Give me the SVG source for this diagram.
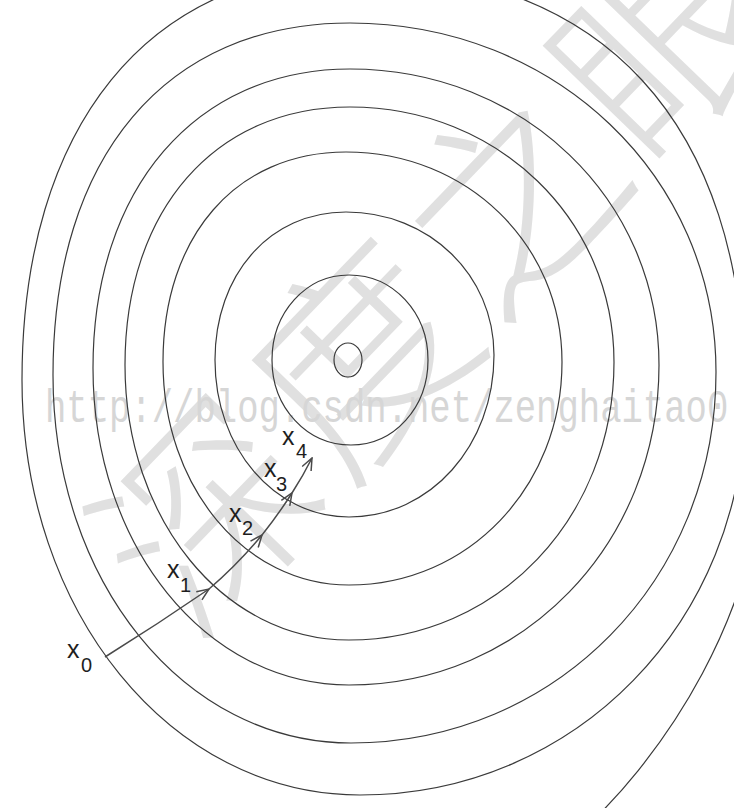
<svg xmlns="http://www.w3.org/2000/svg" width="734" height="808" viewBox="0 0 734 808">
<style>
.wm-cjk{font-family:"Noto Sans CJK SC","Noto Sans CJK JP",sans-serif;font-size:212px;fill:#e0e0e0;font-weight:300}
.wm-url{font-family:"Liberation Mono",monospace;font-size:35.6px;fill:#d6d6d6}
.ct{fill:none;stroke:#3a3a3a;stroke-width:1.2}
.step{fill:none;stroke:#4a4a4a;stroke-width:1.5}
.lbl{font-family:"Liberation Sans",Arial,sans-serif;fill:#1e1e1e}
.main{font-size:25px}
.sub{font-size:20px}
</style>
<defs>
<marker id="ah" viewBox="0 0 14 12" refX="13" refY="6" markerWidth="14" markerHeight="12" markerUnits="userSpaceOnUse" orient="auto">
<path d="M1,1 L13,6 L1,11" fill="none" stroke="#4a4a4a" stroke-width="1.5"/>
</marker>
</defs>
<rect width="734" height="808" fill="#ffffff"/>
<g id="watermark">
<text class="wm-cjk" transform="translate(438,274) rotate(-46)" x="0" y="80" text-anchor="middle" letter-spacing="8">深度之眼</text>
<text class="wm-url" transform="translate(45,422) scale(1,1.3)" x="0" y="0">http://blog.csdn.net/zenghaitao0</text>
</g>
<g id="contours">
<ellipse id="c1" class="ct" cx="348" cy="360" rx="14" ry="17"/>
<path id="c2" class="ct" d="M349,275 C393.2,275 428,312.4 428,360 C428,407.6 394.1,445 351,445 C306.8,445 272,407.6 272,360 C272,312.4 305.9,275 349,275 Z"/>
<path id="c3" class="ct" d="M346,212 C428.9,212 494,274.9 494,355 C494,445.7 430.2,517 349,517 C274,517 215,447.9 215,360 C215,274.2 270,212 346,212 Z"/>
<path id="c4" class="ct" d="M346,152 C467,152 562,244.4 562,362 C562,486.9 468.3,585 349,585 C244.8,585 163,486.9 163,362 C163,236 236.2,152 346,152 Z"/>
<path id="c5" class="ct" d="M350,107 C497.8,107 614,219.2 614,362 C614,517.7 497.4,640 349,640 C223.6,640 125,519 125,365 C125,210.2 215,107 350,107 Z"/>
<path id="c6" class="ct" d="M350,69 C523,69 659,199.2 659,365 C659,544.2 522.6,685 349,685 C205.6,685 93,545.5 93,368 C93,188.6 195.8,69 350,69 Z"/>
<path id="c7" class="ct" d="M350,23 C555,23 716,176.6 716,372 C716,579.8 555.4,743 351,743 C184.1,743 53,581.1 53,375 C53,156.8 165.9,23 350,23 Z"/>
<path id="c8" class="ct" d="M355,-30 C600,-30 745,120 745,400 C745,621.2 575.6,795 360,795 C170.7,795 22,612.4 22,380 C22,127 148.5,-30 355,-30 Z"/>
<path id="c9" class="ct" d="M800,0 C780,200 762,330 762,460 C762,600 670,760 560,850 L300,900 L-100,900 L-100,-100 L800,-100 Z"/>
</g>
<g id="connectors">
<path id="s1" class="step" marker-end="url(#ah)" d="M105,657 Q158,624 209,589"/>
<path id="s2" class="step" marker-end="url(#ah)" d="M209,589 Q238,564 262,535"/>
<path id="s3" class="step" marker-end="url(#ah)" d="M262,535 Q278,515 292,493"/>
<path id="s4" class="step" marker-end="url(#ah)" d="M292,493 Q303,476 312,458"/>
</g>
<g id="x0" class="lbl"><text class="main" x="67" y="658">x</text><text class="sub" x="81" y="672">0</text></g>
<g id="x1" class="lbl"><text class="main" x="167" y="578">x</text><text class="sub" x="180" y="592">1</text></g>
<g id="x2" class="lbl"><text class="main" x="229" y="522">x</text><text class="sub" x="242" y="535">2</text></g>
<g id="x3" class="lbl"><text class="main" x="264" y="477">x</text><text class="sub" x="276" y="491">3</text></g>
<g id="x4" class="lbl"><text class="main" x="282" y="445">x</text><text class="sub" x="296" y="458">4</text></g>
</svg>
